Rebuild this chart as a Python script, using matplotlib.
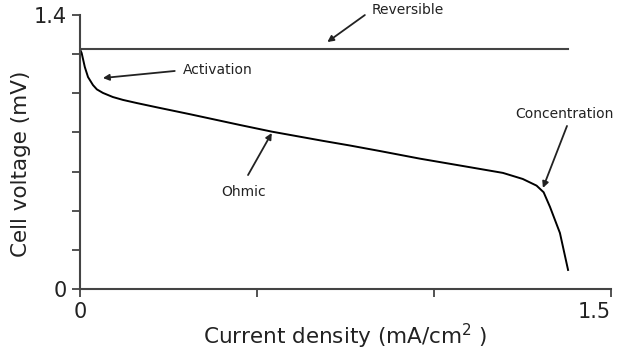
import matplotlib.pyplot as plt
import numpy as np

# polarization curve (current density in mA/cm2, voltage)
current = [0.0, 0.005, 0.014, 0.023, 0.037, 0.048, 0.065, 0.093, 0.122, 0.161,
           0.218, 0.311, 0.452, 0.542, 0.686, 0.763, 0.847, 0.960, 1.102,
           1.195, 1.251, 1.290, 1.310, 1.328, 1.356, 1.379]
voltage = [1.226, 1.206, 1.134, 1.083, 1.042, 1.020, 1.002, 0.981, 0.966, 0.950,
           0.928, 0.893, 0.838, 0.804, 0.757, 0.733, 0.705, 0.666, 0.622,
           0.593, 0.562, 0.528, 0.494, 0.419, 0.286, 0.097]

reversible_v = 1.226
reversible_end = 1.38

# label, text position, arrow tail, arrow tip
labels = ["Reversible", "Activation", "Ohmic", "Concentration"]
text_xy = [(0.927, 1.426), (0.39, 1.119), (0.463, 0.496), (1.37, 0.894)]
tail_xy = [(0.805, 1.40), (0.268, 1.114), (0.475, 0.582), (1.376, 0.833)]
tip_xy = [(0.699, 1.262), (0.065, 1.078), (0.542, 0.797), (1.308, 0.516)]

fig = plt.figure(figsize=(6.24, 3.58), dpi=100)
ax = fig.add_axes([0.128, 0.193, 0.851, 0.765])

ax.plot([0, reversible_end], [reversible_v, reversible_v], color="#444444", lw=1.5)
ax.plot(current, voltage, color="black", lw=1.4, solid_joinstyle="round")

for lab, txy, tail, tip in zip(labels, text_xy, tail_xy, tip_xy):
    ax.text(txy[0], txy[1], lab, fontsize=10, ha="center", va="center",
            color="#222222", clip_on=False)
    ax.annotate("", xy=tip, xytext=tail, annotation_clip=False,
                arrowprops=dict(arrowstyle="-|>", color="#222222", lw=1.3,
                                mutation_scale=9, shrinkA=0, shrinkB=0))

ax.set_xlim(0, 1.5)
ax.set_ylim(0, 1.4)
ax.set_xticks([0, 0.5, 1.0, 1.5])
ax.set_xticklabels(["0", "", "", "1.5"])
ax.set_yticks(np.arange(0, 1.41, 0.2))
ax.set_yticklabels(["0", "", "", "", "", "", "", "1.4"])

for side in ["top", "right"]:
    ax.spines[side].set_visible(False)
for side in ["left", "bottom"]:
    ax.spines[side].set_color("#444444")
    ax.spines[side].set_linewidth(1.5)
ax.tick_params(direction="out", length=6, width=1.3, color="#444444",
               labelsize=15, labelcolor="#222222")
ax.get_xticklabels()[-1].set_horizontalalignment("right")
ax.get_xticklabels()[-1].set_x(1.5)

ax.set_xlabel("Current density (mA/cm$^{2}$ )", fontsize=15.5, color="#222222")
ax.set_ylabel("Cell voltage (mV)", fontsize=15.5, color="#222222")
ax.xaxis.set_label_coords(0.5, -0.175)
ax.yaxis.set_label_coords(-0.111, 0.456)
ax.xaxis.label.set_va("center")
ax.yaxis.label.set_va("center")

fig.savefig("out.png", dpi=100)
